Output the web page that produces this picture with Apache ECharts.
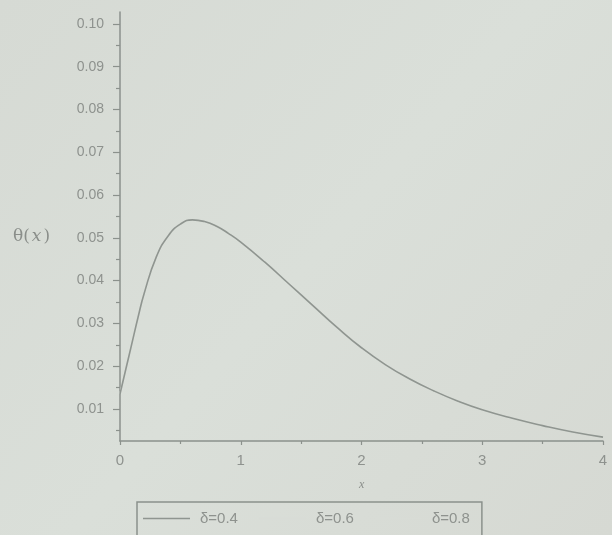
<!DOCTYPE html>
<html>
<head>
<meta charset="utf-8">
<script src="https://cdn.jsdelivr.net/npm/echarts@6/dist/echarts.min.js"></script>
<style>
html,body{margin:0;padding:0;background:#d8dcd6;}
#chart{width:612px;height:535px;}
</style>
</head>
<body>
<div id="chart"></div>
<script>
// Data
const xValues = [0, 0.05, 0.1, 0.15, 0.2, 0.3, 0.4, 0.5, 0.6, 0.7, 0.8, 0.9, 1.0, 1.2, 1.4, 1.6, 1.8, 2.0, 2.2, 2.4, 2.6, 2.8, 3.0, 3.25, 3.5, 3.75, 4.0];
const thetaValues = [0.0135, 0.0195, 0.0255, 0.0315, 0.037, 0.0455, 0.0505, 0.0532, 0.0542, 0.0538, 0.0527, 0.051, 0.049, 0.0443, 0.0392, 0.0341, 0.029, 0.0243, 0.0203, 0.0170, 0.0142, 0.0118, 0.0098, 0.0078, 0.0061, 0.0046, 0.0034];
const seriesNames = ['δ=0.4', 'δ=0.6', 'δ=0.8'];
const yTickLabels = [0.01, 0.02, 0.03, 0.04, 0.05, 0.06, 0.07, 0.08, 0.09, 0.10];
const yMinorTicks = [0.005, 0.015, 0.025, 0.035, 0.045, 0.055, 0.065, 0.075, 0.085, 0.095];

const pts = xValues.map((x, i) => [x, thetaValues[i]]);
const ink = '#8b918c';
const bg = '#d8dcd6';

const chart = echarts.init(document.getElementById('chart'));
chart.setOption({
  backgroundColor: new echarts.graphic.LinearGradient(0, 0, 1, 1, [
    {offset: 0, color: '#d6dad4'},
    {offset: 0.5, color: '#dadfd9'},
    {offset: 1, color: '#d6d9d3'}
  ]),
  animation: false,
  grid: {left: 120, right: 9, top: 12, bottom: 94},
  xAxis: {
    type: 'value', min: 0, max: 4, interval: 1,
    axisLine: {show: true, lineStyle: {color: ink, width: 1.5}},
    axisTick: {show: true, length: 4, lineStyle: {color: ink, width: 1.2}},
    minorTick: {show: true, splitNumber: 2, length: 3, lineStyle: {color: ink, width: 1.2}},
    axisLabel: {color: '#8e928e', fontSize: 15, fontFamily: 'Liberation Sans', margin: 12},
    splitLine: {show: false}
  },
  yAxis: [{
    type: 'value', min: 0.0025, max: 0.1028,
    axisLine: {show: true, lineStyle: {color: ink, width: 1.5}},
    axisTick: {show: true, length: 7, customValues: yTickLabels, lineStyle: {color: ink, width: 1.2}},
    axisLabel: {show: true, customValues: yTickLabels, color: '#8e928e', fontSize: 14, fontFamily: 'Liberation Sans', margin: 16,
      formatter: v => v.toFixed(2)},
    splitLine: {show: false}
  }, {
    type: 'value', min: 0.0025, max: 0.1028, position: 'left',
    axisLine: {show: false},
    axisTick: {show: true, length: 4, customValues: yMinorTicks, lineStyle: {color: ink, width: 1.2}},
    axisLabel: {show: false},
    splitLine: {show: false}
  }],
  legend: {
    data: seriesNames,
    left: 137, top: 502,
    orient: 'horizontal',
    padding: [9, 12, 30, 6],
    itemGap: 21,
    icon: 'rect',
    itemWidth: 47, itemHeight: 1.5,
    borderColor: ink, borderWidth: 1.5,
    textStyle: {color: '#8e928e', fontSize: 15, fontFamily: 'Liberation Sans', padding: [0, 0, 0, 5]}
  },
  graphic: [
    {type: 'text', left: 13, top: 228, style: {
      text: '{a|θ(}{b|x}{a|)}',
      rich: {
        a: {font: '17px "DejaVu Serif"', fill: '#8a8e8a'},
        b: {font: 'italic 17px "DejaVu Serif"', fill: '#8a8e8a', padding: [0, 2, 0, 2]}
      }
    }},
    {type: 'text', left: 359, top: 479, style: {text: 'x', font: 'italic 12px "Liberation Serif"', fill: '#8a8e8a'}}
  ],
  series: [
    {name: seriesNames[2], type: 'line', data: pts, smooth: true, symbol: 'none', z: 1,
      lineStyle: {color: bg, width: 1.5}, itemStyle: {color: bg}},
    {name: seriesNames[1], type: 'line', data: pts, smooth: true, symbol: 'none', z: 2,
      lineStyle: {color: bg, width: 1.5}, itemStyle: {color: bg}},
    {name: seriesNames[0], type: 'line', data: pts, smooth: true, symbol: 'none', z: 3,
      lineStyle: {color: '#8f9590', width: 1.6}, itemStyle: {color: '#8f9590'}}
  ]
});
</script>
</body>
</html>
